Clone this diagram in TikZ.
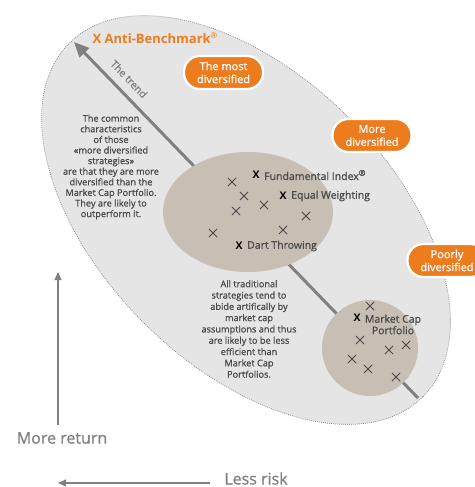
\documentclass[tikz,border=0pt]{standalone}
\usepackage{fontspec}
\setmainfont{Open Sans}
\newfontfamily\medf{Open Sans}[FakeBold=0.9]
\usetikzlibrary{arrows.meta,shapes.misc}
\definecolor{orng}{HTML}{EC7C1E}
\definecolor{ellfill}{HTML}{E5E5E5}
\definecolor{taupe}{HTML}{C8BFB4}
\definecolor{txtgray}{HTML}{4A4A4A}
\definecolor{axgray}{HTML}{808080}
\definecolor{dotgray}{HTML}{8C8C8C}
\newcommand\regm{\raisebox{0.75ex}{\fontsize{8}{8}\selectfont\mdseries ®}}
\begin{document}
\begin{tikzpicture}[x=1pt,y=-1pt,
 pill/.style={rectangle, rounded corners=16pt, fill=orng, draw=white, line width=2.2pt, minimum width=79pt, minimum height=33pt, text=white, font=\medf\fontsize{11}{13}\selectfont, align=center, inner sep=0pt},
 body/.style={text=txtgray, font=\medf\fontsize{9.2}{10.6}\selectfont, align=center, inner sep=0pt},
 lbl/.style={text=txtgray, font=\medf\fontsize{10.5}{11.5}\selectfont, anchor=west, inner sep=0pt},
 bx/.style={text=black, font=\fontsize{10.5}{11}\selectfont\bfseries, inner sep=0pt},
 xm/.style={cross out, draw=txtgray, line width=0.75pt, minimum size=7.5pt, inner sep=0pt},
 axlbl/.style={text=axgray, font=\medf\fontsize{16}{18}\selectfont, inner sep=0pt}
]
\useasboundingbox (0,0) rectangle (474,487);
% big ellipse
\begin{scope}[shift={(246,220)},rotate=-45]
 \fill[ellfill] (0,0) ellipse [x radius=250, y radius=145];
 \draw[dotgray, line width=0.8pt, dash pattern=on 0.8pt off 1.2pt] (0,0) ellipse [x radius=250, y radius=145];
\end{scope}
% trend arrow
\coordinate (tS) at (418,398);
\coordinate (tE) at (74,42);
\draw[axgray, line width=3pt, -{Triangle[length=15pt,width=13pt]}] (tS) -- (tE);
\node[rotate=-46, text=axgray, font=\medf\fontsize{10.5}{12}\selectfont, inner sep=0pt] (trend) at (129,79) {The trend};
% taupe ellipses
\fill[taupe] (248,212) ellipse [x radius=85, y radius=60];
\fill[taupe] (370,348) circle [radius=48];
% thin crosses
\node[xm] (c1) at (232,182) {};
\node[xm] (c2) at (244,196) {};
\node[xm] (c3) at (236,211) {};
\node[xm] (c4) at (264,205) {};
\node[xm] (c5) at (213,233) {};
\node[xm] (c6) at (283,230) {};
\node[xm] (c7) at (306,216) {};
\node[xm] (m1) at (370,306) {};
\node[xm] (m2) at (360,340) {};
\node[xm] (m3) at (389,350) {};
\node[xm] (m4) at (406,345) {};
\node[xm] (m5) at (352,359) {};
\node[xm] (m6) at (368,369) {};
\node[xm] (m7) at (396,377) {};
% bold markers and labels
\node[bx] (bf) at (256,175) {X};
\node[lbl] (lf) at (264,175) {Fundamental Index\regm};
\node[bx] (be) at (283,196) {X};
\node[lbl] (le) at (291,196) {Equal Weighting};
\node[bx] (bd) at (239,246) {X};
\node[lbl] (ld) at (247,246) {Dart Throwing};
\node[bx] (bm) at (357,318) {X};
\node[text=txtgray, font=\medf\fontsize{10.5}{11.5}\selectfont, align=center, inner sep=0pt] (lm) at (393,324.5) {Market Cap\\Portfolio};
% body texts
\node[body] (t1) at (111,167) {The common\\characteristics\\of those\\«more diversified\\strategies»\\are that they are more\\diversified than the\\Market Cap Portfolio.\\They are likely to\\outperform it.};
\node[body, font=\medf\fontsize{9.2}{11.3}\selectfont] (t2) at (249,329) {All traditional\\strategies tend to\\abide artifically by\\market cap\\assumptions and thus\\are likely to be less\\efficient than\\Market Cap\\Portfolios.};
% anti-benchmark
\node[text=orng, font=\fontsize{13}{15}\selectfont\bfseries, inner sep=0pt] (anti) at (155,38) {X Anti-Benchmark\regm};
% pills
\node[pill] (p1) at (223.5,72.5) {The most\\diversified};
\node[pill] (p2) at (372,135.5) {More\\diversified};
\node[pill] (p3) at (447,260.5) {Poorly\\diversified};
% axes
\coordinate (vS) at (58,425);
\coordinate (vE) at (58,272);
\draw[axgray, line width=1.1pt, -{Triangle[length=8pt,width=7pt]}] (vS) -- (vE);
\node[axlbl] (ret) at (62,438) {More return};
\coordinate (hS) at (210,483);
\coordinate (hE) at (58,483);
\draw[axgray, line width=1.1pt, -{Triangle[length=8pt,width=7pt]}] (hS) -- (hE);
\node[axlbl] (risk) at (256,478.5) {Less risk};
\end{tikzpicture}
\end{document}
